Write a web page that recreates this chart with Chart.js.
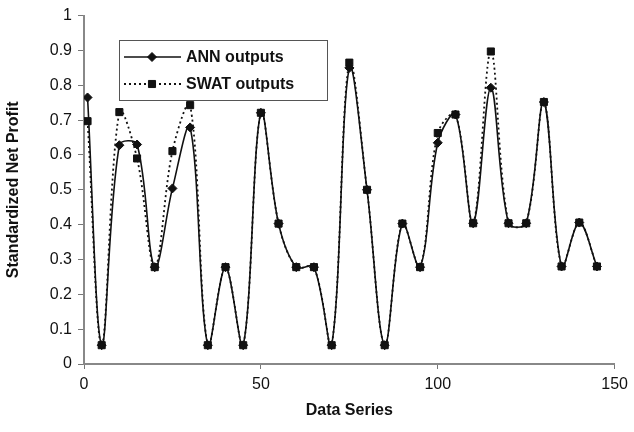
<!DOCTYPE html>
<html>
<head>
<meta charset="utf-8">
<script src="https://cdn.jsdelivr.net/npm/chart.js@4.4.0/dist/chart.umd.min.js"></script>
<style>
  html, body { margin: 0; padding: 0; background: #fff; }
  #wrap { width: 634px; height: 432px; }
</style>
</head>
<body>
<div id="wrap"><canvas id="chart" width="634" height="432"></canvas></div>
<script>
// x positions of the samples (Data Series)
const seriesX = [1, 5, 10, 15, 20, 25, 30, 35, 40, 45, 50, 55, 60, 65, 70,
                 75, 80, 85, 90, 95, 100, 105, 110, 115, 120, 125, 130, 135, 140, 145];

const annOutputs = [0.765, 0.054, 0.628, 0.630, 0.278, 0.504, 0.679, 0.054, 0.278, 0.054,
                    0.721, 0.403, 0.278, 0.278, 0.054, 0.850, 0.500, 0.054, 0.403, 0.278,
                    0.635, 0.716, 0.404, 0.793, 0.404, 0.404, 0.752, 0.280, 0.406, 0.280];

const swatOutputs = [0.697, 0.054, 0.723, 0.590, 0.278, 0.611, 0.743, 0.054, 0.278, 0.054,
                     0.721, 0.403, 0.278, 0.278, 0.054, 0.865, 0.500, 0.054, 0.403, 0.278,
                     0.663, 0.716, 0.404, 0.897, 0.404, 0.404, 0.752, 0.280, 0.406, 0.280];

const xTickLabels = ['0', '50', '100', '150'];
const yTickLabels = ['0', '0.1', '0.2', '0.3', '0.4', '0.5', '0.6', '0.7', '0.8', '0.9', '1'];

const FONT = "'Liberation Sans', Arial, sans-serif";

const toPoints = vals => vals.map((v, i) => ({ x: seriesX[i], y: v }));

// legend box drawn inside the plot, like the original
const insideLegend = {
    id: 'insideLegend',
    afterDraw(chart) {
        const ctx = chart.ctx;
        const x0 = 119, y0 = 40, w = 208, h = 60;
        ctx.save();
        ctx.fillStyle = '#fff';
        ctx.fillRect(x0, y0, w, h);
        ctx.strokeStyle = '#555';
        ctx.lineWidth = 1;
        ctx.strokeRect(x0 + 0.5, y0 + 0.5, w, h);

        chart.data.datasets.forEach((ds, i) => {
            const cy = y0 + 17 + i * 27;
            ctx.strokeStyle = '#111';
            ctx.lineWidth = ds.borderWidth;
            ctx.setLineDash(ds.borderDash || []);
            ctx.beginPath();
            ctx.moveTo(x0 + 5, cy);
            ctx.lineTo(x0 + 62, cy);
            ctx.stroke();
            ctx.setLineDash([]);
            ctx.fillStyle = '#111';
            ctx.lineWidth = 1;
            Chart.helpers.drawPoint(ctx, {
                pointStyle: ds.pointStyle,
                radius: ds.pointRadius,
                borderWidth: 1
            }, x0 + 33, cy);
            ctx.fillStyle = '#111';
            ctx.font = 'bold 16px ' + FONT;
            ctx.textBaseline = 'middle';
            ctx.fillText(ds.label, x0 + 67, cy + 1);
        });
        ctx.restore();
    }
};

new Chart(document.getElementById('chart'), {
    type: 'line',
    data: {
        datasets: [
            {
                label: 'ANN outputs',
                data: toPoints(annOutputs),
                borderColor: '#111',
                backgroundColor: '#111',
                borderWidth: 1.6,
                pointStyle: 'rectRot',
                pointRadius: 4.5,
                pointBorderWidth: 1,
                tension: 0.35,
                order: 1
            },
            {
                label: 'SWAT outputs',
                data: toPoints(swatOutputs),
                borderColor: '#111',
                backgroundColor: '#111',
                borderWidth: 1.8,
                borderDash: [2, 3],
                pointStyle: 'rect',
                pointRadius: 5,
                pointBorderWidth: 1,
                tension: 0.35,
                order: 0
            }
        ]
    },
    options: {
        responsive: false,
        animation: false,
        layout: { padding: { top: 14, right: 19, left: 0, bottom: 8 } },
        plugins: {
            legend: { display: false },
            tooltip: { enabled: false }
        },
        scales: {
            x: {
                type: 'linear',
                min: 0,
                max: 150,
                afterBuildTicks: scale => {
                    scale.ticks = xTickLabels.map(t => ({ value: Number(t) }));
                },
                ticks: {
                    color: '#111',
                    font: { family: FONT, size: 16 },
                    padding: 6,
                    maxRotation: 0,
                    callback: (v) => xTickLabels.find(t => Number(t) === v)
                },
                grid: { drawOnChartArea: false, tickLength: 5, color: '#777' },
                border: { color: '#888', width: 2 },
                title: {
                    display: true,
                    text: 'Data Series',
                    color: '#111',
                    font: { family: FONT, size: 16, weight: 'bold' },
                    padding: { top: 2 }
                },
                afterFit: scale => { scale.height = 60; }
            },
            y: {
                min: 0,
                max: 1,
                afterBuildTicks: scale => {
                    scale.ticks = yTickLabels.map(t => ({ value: Number(t) }));
                },
                ticks: {
                    color: '#111',
                    font: { family: FONT, size: 16 },
                    padding: 6,
                    callback: (v) => yTickLabels.find(t => Math.abs(Number(t) - v) < 1e-9)
                },
                grid: { drawOnChartArea: false, tickLength: 6, color: '#777' },
                border: { color: '#888', width: 2 },
                title: {
                    display: true,
                    text: 'Standardized Net Profit',
                    color: '#111',
                    font: { family: FONT, size: 16, weight: 'bold' },
                    padding: { bottom: 4 }
                },
                afterFit: scale => { scale.width = 84; }
            }
        }
    },
    plugins: [insideLegend]
});
</script>
</body>
</html>
